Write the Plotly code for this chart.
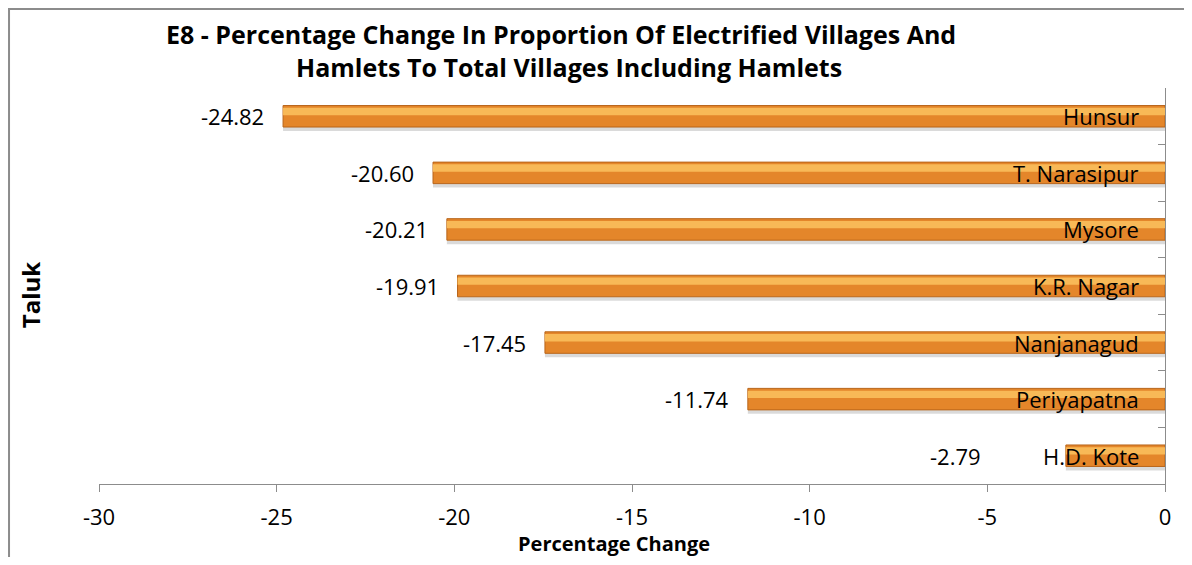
import plotly.graph_objects as go

# taluks listed bottom -> top as in the reference
taluks = ["H.D. Kote", "Periyapatna", "Nanjanagud", "K.R. Nagar", "Mysore", "T. Narasipur", "Hunsur"]
pct_change = [-2.79, -11.74, -17.45, -19.91, -20.21, -20.60, -24.82]
x_ticks = [-30, -25, -20, -15, -10, -5, 0]

FONT = "Open Sans"
LABEL_SIZE = 22
PX_PER_UNIT = 1066 / 30  # plot width / x span, used to keep labels apart

fig = go.Figure()

# soft shadow under each bar
fig.add_trace(go.Bar(
    y=taluks, x=pct_change, orientation="h",
    width=0.07, offset=-0.26,
    marker=dict(color="rgba(150,150,150,0.35)", line=dict(width=0)),
    hoverinfo="skip", showlegend=False,
))
# main orange bar
fig.add_trace(go.Bar(
    y=taluks, x=pct_change, orientation="h",
    width=0.38, offset=-0.19,
    marker=dict(color="#E4862A", line=dict(color="#B8651A", width=1)),
    showlegend=False,
))
# highlight stripe for the bevel look
fig.add_trace(go.Bar(
    y=taluks, x=pct_change, orientation="h",
    width=0.13, offset=0.02,
    marker=dict(color="#F8B957", line=dict(width=0)),
    hoverinfo="skip", showlegend=False,
))

label_font = dict(family=FONT, size=LABEL_SIZE, color="black")


def value_shift(name, value):
    # value label sits just left of the bar end, unless the name label covers the bar
    bar_px = -value * PX_PER_UNIT
    name_left = len(name) * 12 + 24
    if bar_px < name_left:
        return -(name_left + 50 - bar_px)
    return -17


value_labels = [
    dict(x=v, y=t, text=f"{v:.2f}", xref="x", yref="y", xanchor="right", yanchor="middle",
         xshift=value_shift(t, v), showarrow=False, font=label_font)
    for t, v in zip(taluks, pct_change)
]
# category names drawn next to the axis, over the bars
category_labels = [
    dict(x=0, y=t, text=t, xref="x", yref="y", xanchor="right", yanchor="middle",
         xshift=-24, showarrow=False, font=label_font)
    for t in taluks
]

title_font = dict(family=FONT, size=25, color="black")

fig.update_layout(
    width=1176, height=549,
    barmode="overlay",
    paper_bgcolor="white", plot_bgcolor="white",
    margin=dict(l=91, r=19, t=80, b=73),
    font=dict(family=FONT, size=LABEL_SIZE, color="black"),
    xaxis=dict(
        range=[-30, 0], tickvals=x_ticks, ticktext=[str(v) for v in x_ticks],
        showgrid=False, zeroline=False,
        showline=True, linecolor="#8C8C8C", linewidth=1,
        ticks="outside", ticklen=7, tickcolor="#8C8C8C",
        ticklabelstandoff=7, ticklabeloverflow="allow",
        tickfont=dict(color="black", size=LABEL_SIZE),
    ),
    yaxis=dict(
        type="category", categoryorder="array", categoryarray=taluks,
        side="right", tickson="boundaries", showticklabels=False,
        ticks="inside", ticklen=7, tickcolor="#8C8C8C",
        showline=True, linecolor="#8C8C8C", linewidth=1, showgrid=False,
        range=[-0.5, 6.5],
    ),
    annotations=value_labels + category_labels + [
        dict(text="<b>E8 - Percentage Change In Proportion Of Electrified Villages And</b>",
             xref="paper", yref="paper", x=0.4334, y=1.136, xanchor="center", yanchor="middle",
             showarrow=False, font=title_font),
        dict(text="<b>Hamlets To Total Villages Including Hamlets</b>",
             xref="paper", yref="paper", x=0.4409, y=1.053, xanchor="center", yanchor="middle",
             showarrow=False, font=title_font),
        dict(text="<b>Taluk</b>", textangle=-90, xref="paper", yref="paper",
             x=-0.0647, y=0.477, xanchor="center", yanchor="middle",
             showarrow=False, font=dict(family=FONT, size=24)),
        dict(text="<b>Percentage Change</b>", xref="paper", yref="paper",
             x=0.483, y=-0.151, xanchor="center", yanchor="middle",
             showarrow=False, font=dict(family=FONT, size=20)),
    ],
    shapes=[dict(type="rect", xref="paper", yref="paper",
                 x0=-0.0844, x1=1.2, y0=-0.3, y1=1.1995,
                 line=dict(color="#8C8C8C", width=2), layer="below")],
)

fig.write_html("out.html")
